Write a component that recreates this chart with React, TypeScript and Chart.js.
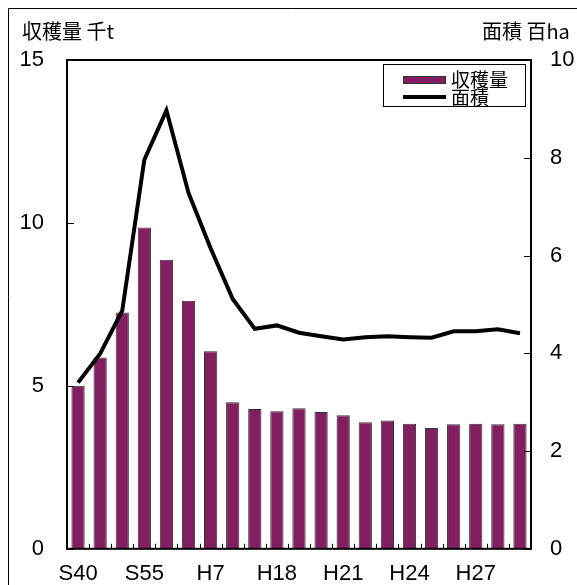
import { useEffect, useRef } from 'react';
import { Chart, registerables } from 'chart.js';

Chart.register(...registerables);

// Survey years (only every third one is labelled on the axis)
const categories = ['S40', 'S45', 'S50', 'S55', 'S60', 'H2', 'H7', 'H12', 'H17', 'H18', 'H19', 'H20', 'H21', 'H22', 'H23', 'H24', 'H25', 'H26', 'H27', 'H28', 'H29'];
const shownLabels = ['S40', 'S55', 'H7', 'H18', 'H21', 'H24', 'H27'];

// 収穫量 (千t), left axis
const harvest = [5.0, 5.87, 7.25, 9.86, 8.87, 7.61, 6.06, 4.5, 4.29, 4.22, 4.31, 4.2, 4.1, 3.88, 3.94, 3.84, 3.71, 3.82, 3.84, 3.82, 3.84];
// 面積 (百ha), right axis
const area = [3.4, 3.99, 4.87, 7.96, 8.97, 7.28, 6.15, 5.11, 4.5, 4.57, 4.42, 4.35, 4.28, 4.33, 4.35, 4.33, 4.32, 4.45, 4.45, 4.49, 4.41];

const leftMax = 15;
const leftStep = 5;
const rightMax = 10;
const rightStep = 2;

const harvestLabel = '収穫量';
const areaLabel = '面積';
const leftUnit = '収穫量 千t';
const rightUnit = '面積 百ha';

const BAR_COLOR = '#821f60';
const FONT = "'Liberation Sans', 'Noto Sans CJK JP', sans-serif";
const CJK_FONT = "'Noto Sans CJK JP', 'Liberation Sans', sans-serif";

const decorPlugin = {
  id: 'decor',
  beforeDraw(chart: any) {
    const ctx = chart.ctx;
    ctx.save();
    ctx.fillStyle = '#fff';
    ctx.fillRect(0, 0, chart.width, chart.height);
    // outer panel edges
    ctx.strokeStyle = '#000';
    ctx.lineWidth = 1;
    ctx.beginPath();
    ctx.moveTo(8.5, chart.height);
    ctx.lineTo(8.5, 8.5);
    ctx.lineTo(chart.width, 8.5);
    ctx.stroke();
    // axis unit captions
    ctx.fillStyle = '#000';
    ctx.font = `20px ${CJK_FONT}`;
    ctx.textBaseline = 'middle';
    ctx.textAlign = 'left';
    ctx.fillText(leftUnit, 22, 31);
    ctx.fillText(rightUnit, 482, 31);
    ctx.restore();
  },
  afterDatasetsDraw(chart: any) {
    const ctx = chart.ctx;
    const { left, right, top, bottom } = chart.chartArea;
    const yL = chart.scales.y;
    const yR = chart.scales.y1;
    ctx.save();
    ctx.strokeStyle = '#000';
    ctx.lineWidth = 1;
    ctx.beginPath();
    // inward tick marks, left axis
    for (let v = 0; v <= leftMax; v += leftStep) {
      const py = Math.round(yL.getPixelForValue(v)) + 0.5;
      ctx.moveTo(left, py);
      ctx.lineTo(left + 7, py);
    }
    // inward tick marks, right axis
    for (let v = 0; v <= rightMax; v += rightStep) {
      const py = Math.round(yR.getPixelForValue(v)) + 0.5;
      ctx.moveTo(right, py);
      ctx.lineTo(right - 7, py);
    }
    // category boundary ticks on the bottom axis
    const n = categories.length;
    const w = (right - left) / n;
    for (let i = 1; i < n; i++) {
      const px = Math.round(left + w * i) + 0.5;
      ctx.moveTo(px, bottom);
      ctx.lineTo(px, bottom - 5);
    }
    ctx.stroke();
    // plot frame
    ctx.lineWidth = 2;
    ctx.strokeRect(left, top, right - left, bottom - top);

    // legend box
    const lx = 383.5, ly = 64.5, lw = 142, lh = 42;
    ctx.fillStyle = '#fff';
    ctx.fillRect(lx, ly, lw, lh);
    ctx.lineWidth = 1;
    ctx.strokeRect(lx, ly, lw, lh);
    ctx.fillStyle = BAR_COLOR;
    ctx.fillRect(403, 76, 43, 8);
    ctx.strokeStyle = '#333';
    ctx.strokeRect(403.5, 76.5, 42, 7);
    ctx.strokeStyle = '#000';
    ctx.lineWidth = 4;
    ctx.beginPath();
    ctx.moveTo(403, 97);
    ctx.lineTo(446, 97);
    ctx.stroke();
    ctx.fillStyle = '#000';
    ctx.font = `19px ${CJK_FONT}`;
    ctx.textBaseline = 'middle';
    ctx.textAlign = 'left';
    ctx.fillText(harvestLabel, 451, 80);
    ctx.fillText(areaLabel, 451, 98);
    ctx.restore();
  },
};

export default function App() {
  const canvasRef = useRef<HTMLCanvasElement | null>(null);

  useEffect(() => {
    const canvas = canvasRef.current;
    if (!canvas) return;
    const tickFont = { family: FONT, size: 22 };
    const chart = new Chart(canvas, {
      type: 'bar',
      data: {
        labels: categories,
        datasets: [
          {
            type: 'line',
            label: areaLabel,
            data: area,
            yAxisID: 'y1',
            borderColor: '#000',
            borderWidth: 4,
            pointRadius: 0,
            tension: 0,
            fill: false,
            order: 0,
          } as any,
          {
            type: 'bar',
            label: harvestLabel,
            data: harvest,
            yAxisID: 'y',
            backgroundColor: BAR_COLOR,
            borderColor: '#333',
            borderWidth: 1,
            barPercentage: 0.6,
            categoryPercentage: 1,
            order: 1,
          },
        ],
      },
      options: {
        responsive: false,
        animation: false,
        devicePixelRatio: 1,
        layout: { padding: { top: 60, left: 0, right: 0, bottom: 0 } },
        plugins: {
          legend: { display: false },
          tooltip: { enabled: false },
        },
        scales: {
          x: {
            type: 'category',
            offset: true,
            grid: { display: false, drawTicks: false },
            border: { display: false },
            ticks: {
              autoSkip: false,
              maxRotation: 0,
              minRotation: 0,
              padding: 12,
              color: '#000',
              font: tickFont,
              callback: (_v: any, i: number) => (shownLabels.includes(categories[i]) ? categories[i] : ''),
            },
            afterFit: (s: any) => {
              s.height = 34;
            },
          },
          y: {
            position: 'left',
            min: 0,
            max: leftMax,
            grid: { display: false, drawTicks: false },
            border: { display: false },
            ticks: { stepSize: leftStep, padding: 23, color: '#000', font: tickFont },
            afterFit: (s: any) => {
              s.width = 67;
            },
          },
          y1: {
            position: 'right',
            min: 0,
            max: rightMax,
            grid: { display: false, drawTicks: false },
            border: { display: false },
            ticks: { stepSize: rightStep, padding: 19, color: '#000', font: tickFont },
            afterFit: (s: any) => {
              s.width = 46;
            },
          },
        },
      } as any,
      plugins: [decorPlugin],
    });
    return () => chart.destroy();
  }, []);

  return (
    <div style={{ position: 'fixed', left: 0, top: 0, width: 577, height: 585 }}>
      <canvas ref={canvasRef} width={577} height={585} style={{ display: 'block' }} />
    </div>
  );
}
